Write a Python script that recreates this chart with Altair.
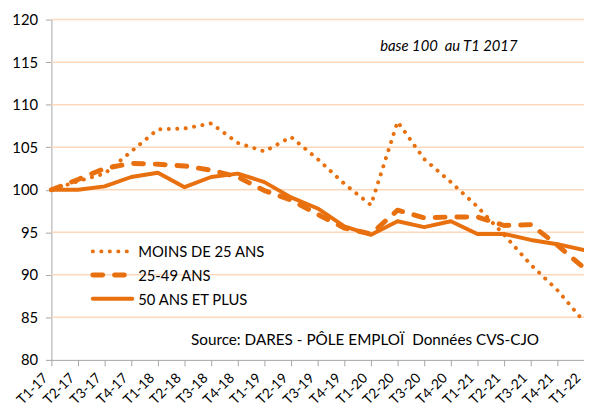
import altair as alt
import pandas as pd

quarters = ["T1-17", "T2-17", "T3-17", "T4-17", "T1-18", "T2-18", "T3-18", "T4-18",
            "T1-19", "T2-19", "T3-19", "T4-19", "T1-20", "T2-20", "T3-20", "T4-20",
            "T1-21", "T2-21", "T3-21", "T4-21", "T1-22"]

moins25 = [100.0, 101.0, 101.9, 104.5, 107.1, 107.2, 107.8, 105.5, 104.5, 106.2, 103.6,
           100.7, 98.2, 108.0, 103.6, 100.9, 98.0, 94.7, 91.2, 88.2, 84.5]
ans25_49 = [100.0, 101.2, 102.5, 103.1, 103.0, 102.8, 102.3, 101.5, 99.9, 98.8, 97.1,
            95.5, 94.8, 97.6, 96.7, 96.8, 96.8, 95.8, 95.9, 93.5, 90.8]
ans50 = [100.0, 100.0, 100.4, 101.5, 102.0, 100.3, 101.5, 101.9, 100.9, 99.1, 97.8,
         95.7, 94.7, 96.3, 95.6, 96.3, 94.8, 94.8, 94.1, 93.6, 92.9]

series_names = ["MOINS DE 25 ANS", "25-49 ANS", "50 ANS ET PLUS"]
series_values = [moins25, ans25_49, ans50]

ORANGE = "#E8700F"
GRID = "#FCD9BD"
FONT = "Lato"

styles = [
    dict(strokeDash=[0.1, 8.5], strokeCap="round", strokeWidth=4),
    dict(strokeDash=[10, 12], strokeCap="round", strokeWidth=5),
    dict(strokeCap="round", strokeWidth=4),
]

rows = []
for name, vals in zip(series_names, series_values):
    for q, v in zip(quarters, vals):
        rows.append({"quarter": q, "value": v, "series": name})
df = pd.DataFrame(rows)

x_enc = alt.X("quarter:N", sort=quarters,
              scale=alt.Scale(type="point", padding=0),
              axis=alt.Axis(title=None, labelAngle=-45, labelAlign="right",
                            labelBaseline="middle", labelFontSize=14, labelFont=FONT,
                            labelColor="#000000", labelPadding=10, labelOffset=-6,
                            domainColor="#A6A6A6", tickColor="#A6A6A6", tickSize=6,
                            grid=False))
y_enc = alt.Y("value:Q", scale=alt.Scale(domain=[80, 120], nice=False, zero=False),
              axis=alt.Axis(title=None, values=[80, 85, 90, 95, 100, 105, 110, 115, 120],
                            labelFontSize=15, labelFont=FONT, labelColor="#000000",
                            labelPadding=8, domainColor="#A6A6A6", tickColor="#A6A6A6",
                            tickSize=6, grid=False))

grid = alt.Chart(pd.DataFrame({"g": [85, 90, 95, 100, 105, 110, 115, 120]})).mark_rule(
    color=GRID, strokeWidth=1.5).encode(y=alt.Y("g:Q", scale=alt.Scale(domain=[80, 120])))

layers = [grid]
for name, st in zip(series_names, styles):
    layers.append(
        alt.Chart(df[df.series == name]).mark_line(color=ORANGE, strokeJoin="round", **st)
        .encode(x=x_enc, y=y_enc)
    )

one = pd.DataFrame({"a": [0]})
legend_y = [235, 259, 283]
for name, st, ly in zip(series_names, styles, legend_y):
    layers.append(alt.Chart(one).mark_rule(color=ORANGE, **st).encode(
        x=alt.value(42), x2=alt.value(82), y=alt.value(ly)))
    layers.append(alt.Chart(one).mark_text(align="left", baseline="middle", font=FONT,
                                           fontSize=15, color="#000000").encode(
        x=alt.value(88), y=alt.value(ly + 1), text=alt.value(name)))

layers.append(alt.Chart(one).mark_text(align="center", baseline="middle", font=FONT,
                                       fontSize=15, fontStyle="italic", color="#000000").encode(
    x=alt.value(403), y=alt.value(27), text=alt.value("base 100\u00a0 au T1 2017")))
layers.append(alt.Chart(one).mark_text(align="center", baseline="middle", font=FONT,
                                       fontSize=15.5, color="#000000").encode(
    x=alt.value(318), y=alt.value(325),
    text=alt.value("Source: DARES - PÔLE EMPLOÏ\u00a0 Données CVS-CJO")))

chart = alt.layer(*layers).properties(
    width=540, height=345,
    autosize=alt.AutoSizeParams(type="none"),
    padding={"left": 44, "top": 9, "right": 0, "bottom": 45},
).configure_view(stroke=None)

chart.save("out.html", embed_options={"renderer": "svg", "actions": False})
